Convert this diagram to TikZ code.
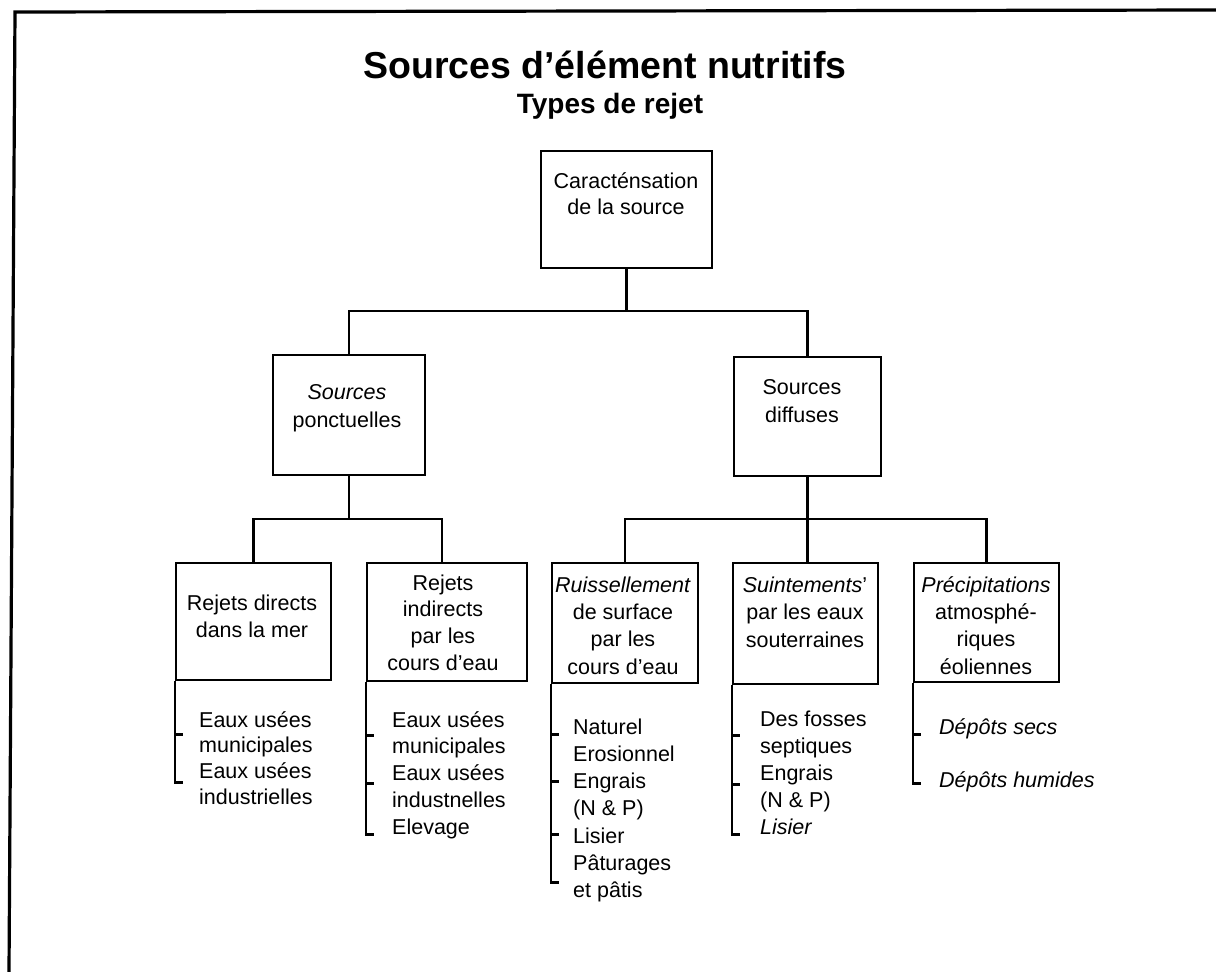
\documentclass[tikz,border=0pt]{standalone}
\usepackage{fontspec}
\setmainfont{Liberation Sans}
\usetikzlibrary{calc}
\begin{document}
\begin{tikzpicture}[x=1pt,y=-1pt,
  box/.style={draw, line width=2.6pt, inner sep=0pt},
  conn/.style={line width=2.2pt},
  brk/.style={line width=2.4pt},
  btxt/.style={inner sep=0pt, align=center, anchor=north, font=\fontsize{21.5}{#1}\selectfont},
  ltxt/.style={inner sep=0pt, align=left, anchor=north west, font=\fontsize{21.5}{#1}\selectfont},
]
\useasboundingbox (0,0) rectangle (1216,972);
\fill[white] (0,0) rectangle (1216,972);
% frame
\draw[line width=3.2pt] (1216,10) -- (15,12) -- (9,972);

% titles
\node[inner sep=0pt, anchor=base, font=\bfseries\fontsize{37.5}{40}\selectfont] (title) at (605,78) {Sources d’élément nutritifs};
\node[inner sep=0pt, anchor=base, font=\bfseries\fontsize{28}{30}\selectfont] (subtitle) at (610,113) {Types de rejet};

% boxes
\node[box, minimum width=171pt, minimum height=117pt] (top) at (626.5,209.5) {};
\node[box, minimum width=152pt, minimum height=120pt] (pon) at (349,415) {};
\node[box, minimum width=147pt, minimum height=119pt] (dif) at (807.5,416.5) {};
\node[box, minimum width=155pt, minimum height=117pt] (rd) at (253.5,621.5) {};
\node[box, minimum width=160pt, minimum height=118pt] (ri) at (447,622) {};
\node[box, minimum width=146pt, minimum height=120pt] (ru) at (625,623) {};
\node[box, minimum width=145pt, minimum height=121pt] (su) at (805.5,623.5) {};
\node[box, minimum width=145pt, minimum height=119pt] (pr) at (986.5,622.5) {};

% box texts
\node[btxt=26] (topT) at (626,169.8) {\strut Caracténsation\\de la source};
\node[btxt=28] (ponT) at (347,379.4) {\strut\textit{Sources}\\ponctuelles};
\node[btxt=28] (difT) at (802,374.4) {\strut Sources\\diffuses};
\node[btxt=27] (rdT) at (252,591.1) {\strut Rejets directs\\dans la mer};
\node[btxt=26.7] (riT) at (443,571.3) {\strut Rejets\\indirects\\par les\\cours d'eau};
\node[btxt=27.3] (ruT) at (623,572.9) {\strut\textit{Ruissellement}\\de surface\\par les\\cours d'eau};
\node[btxt=27.5] (suT) at (805,572.8) {\strut\textit{Suintements}'\\par les eaux\\souterraines};
\node[btxt=27.3] (prT) at (986,572.9) {\strut\textit{Précipitations}\\atmosphé-\\riques\\éoliennes};

% connectors
\coordinate (j1) at (626.5,311);
\draw[conn] (top.south) -- (top.south |- j1);
\draw[conn] (pon.north) |- (j1) -| (dif.north);
\coordinate (j2) at (349,519);
\draw[conn] (pon.south) -- (pon.south |- j2);
\draw[conn] (rd.north) |- (j2) -| ($(ri.north)+(-5,0)$);
\coordinate (j3) at (807.5,519);
\draw[conn] (dif.south) -- (dif.south |- j3);
\draw[conn] (ru.north) |- (j3) -| (pr.north);
\draw[conn] (su.north -| j3) -- (j3);

% brackets
\draw[brk] (rd.south west) |- ++(8,101);
\draw[brk] ($(rd.south west)+(0,53)$) -- ++(8,0);
\draw[brk] (ri.south west) |- ++(8,152);
\draw[brk] ($(ri.south west)+(0,53)$) -- ++(8,0);
\draw[brk] ($(ri.south west)+(0,101)$) -- ++(8,0);
\draw[brk] (ru.south west) |- ++(8,198);
\draw[brk] ($(ru.south west)+(0,50)$) -- ++(8,0);
\draw[brk] ($(ru.south west)+(0,97)$) -- ++(8,0);
\draw[brk] ($(ru.south west)+(0,150)$) -- ++(8,0);
\draw[brk] (su.south west) |- ++(8,149);
\draw[brk] ($(su.south west)+(0,50)$) -- ++(8,0);
\draw[brk] ($(su.south west)+(0,99)$) -- ++(8,0);
\draw[brk] (pr.south west) |- ++(8,100);
\draw[brk] ($(pr.south west)+(0,51)$) -- ++(8,0);

% lists
\node[ltxt=25.7] (rdL) at (199,709) {\strut Eaux usées\\municipales\\Eaux usées\\industrielles};
\node[ltxt=26.75] (riL) at (392,708.3) {\strut Eaux usées\\municipales\\Eaux usées\\industnelles\\Elevage};
\node[ltxt=27.2] (ruL) at (573,715) {\strut Naturel\\Erosionnel\\Engrais\\(N \& P)\\Lisier\\Pâturages\\et pâtis};
\node[ltxt=27] (suL) at (760,707.1) {\strut Des fosses\\septiques\\Engrais\\(N \& P)\\\textit{Lisier}};
\node[ltxt=27] (prL1) at (939,715.1) {\strut\textit{Dépôts secs}};
\node[ltxt=27] (prL2) at (939,768.1) {\strut\textit{Dépôts humides}};
\end{tikzpicture}
\end{document}
